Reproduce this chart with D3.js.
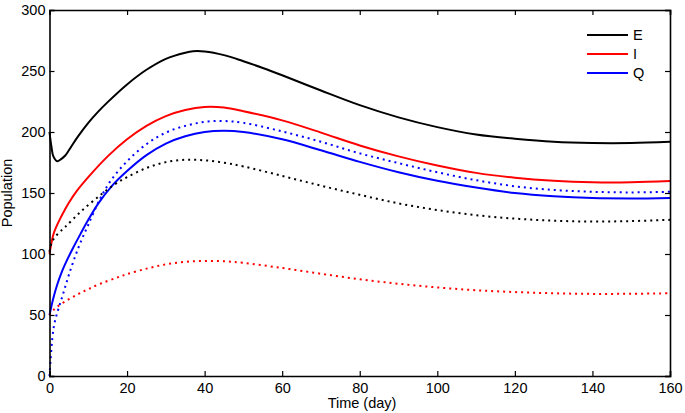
<!DOCTYPE html>
<html><head><meta charset="utf-8">
<script src="https://cdn.jsdelivr.net/npm/d3@7"></script>
<style>
body{margin:0;background:#fff;}
text{font-family:"Liberation Sans",Arial,sans-serif;}
</style></head>
<body><svg id="c" width="685" height="413"></svg>
<script>
// Data
const xTicks = [0,20,40,60,80,100,120,140,160];
const yTicks = [0,50,100,150,200,250,300];
const seriesNames = ["E","I","Q"];
const seriesColors = ["#000000","#ff0000","#0000ff"];

const eSolidT = [0,0.5,1,2,3,4,5,6,7.5,10,12.5,15,20,25,30,35,37,40,45,50,55,60,70,80,90,100,110,120,130,140,150,160];
const eSolidV = [200,188,180,176,177.8,180.5,185,190,197,207.5,216.5,224.5,239,251,260,265,266.2,266,263,258,252.5,246.5,234,222,212,204,198,194.5,192,191,191,192];

const iSolidT = [0,0.5,1,2,3,4,5,7,10,15,20,25,30,35,40,45,50,60,70,80,90,100,110,120,130,140,150,160];
const iSolidV = [100,109,116,124,130.5,136.5,142,151.5,163,180,194,205,213,218,220.5,220,217,209.5,199.5,189,180,172.5,166.5,162.5,160,158.8,158.8,159.8];

const qSolidT = [0,1,2,3,4,6,8,10,12.6,16,20,25,30,35,40,45,50,60,70,80,90,100,110,120,130,140,150,160];
const qSolidV = [50,64,75,84,91.5,104.5,116.5,128,141.5,155.5,168,181,190.5,196.5,200,201,200,194,185,175.5,167,160,154.5,150,147.3,145.8,145.5,145.8];

const eDotT = [0,0.5,1,2,4,8,13,17,20,25,30,35,40,45,50,60,70,80,90,100,110,120,130,140,150,160];
const eDotV = [102,109,112,116,122,134.5,148,157.5,163,170.5,175.3,177.2,176.8,174.8,171.8,164,156,148.5,141.5,136,131.8,129,127.3,126.6,127,128];

const iDotT = [0,1,2.3,5,7.6,10,13.4,17.7,20,25,30,35,40,45,50,60,70,80,90,100,110,120,130,140,150,160];
const iDotV = [50,54,57.5,63,67.5,71.2,76,81,83.5,88,91.5,93.6,94.3,94,92.8,88.5,83.8,79.3,75.6,72.6,70.3,68.8,67.8,67.3,67.4,67.8];

const qDotT = [0,0.3,0.7,1.2,2,3,4,5,6.5,8,10,13,16,20,25,30,35,40,45,50,60,70,80,90,100,110,120,130,140,150,160];
const qDotV = [0,14,30,42,52,62,72.5,83,97,109.5,124,145,161,176,190,199.5,205,208.3,209,207.5,200.5,192,182.5,174.5,167,160.5,155.5,152.5,151,150.5,151];

const W = 685, H = 413;
const m = {left:49.5, right:15, top:10, bottom:37};
const svg = d3.select("#c");
const x = d3.scaleLinear().domain([0,160]).range([m.left, W-m.right]);
const y = d3.scaleLinear().domain([0,300]).range([H-m.bottom, m.top]);

const line = d3.line().x(d=>x(d[0])).y(d=>y(d[1])).curve(d3.curveCatmullRom.alpha(0.5));
const zip = (t,v)=>t.map((ti,i)=>[ti,v[i]]);

const curves = [
  {t:eSolidT,v:eSolidV,c:0,dot:false},
  {t:iSolidT,v:iSolidV,c:1,dot:false},
  {t:qSolidT,v:qSolidV,c:2,dot:false},
  {t:eDotT,v:eDotV,c:0,dot:true},
  {t:iDotT,v:iDotV,c:1,dot:true},
  {t:qDotT,v:qDotV,c:2,dot:true}
];

const g = svg.append("g");
g.selectAll("path.curve").data(curves).enter().append("path")
  .attr("class","curve")
  .attr("d",d=>line(zip(d.t,d.v)))
  .attr("fill","none")
  .attr("stroke",d=>seriesColors[d.c])
  .attr("stroke-width",2)
  .attr("stroke-dasharray",d=>d.dot?"2,4":null);

// Axes (box with inward ticks)
const tl = 5;
const fs = 14.5;
const ax = svg.append("g");
ax.append("g").attr("transform",`translate(0,${y(0)})`)
  .call(d3.axisBottom(x).tickValues(xTicks).tickSize(-tl).tickPadding(7).tickFormat(d3.format("d")));
ax.append("g").attr("transform",`translate(0,${y(300)})`)
  .call(d3.axisTop(x).tickValues(xTicks).tickSize(-tl).tickFormat(""));
ax.append("g").attr("transform",`translate(${x(0)},0)`)
  .call(d3.axisLeft(y).tickValues(yTicks).tickSize(-tl).tickPadding(4).tickFormat(d3.format("d")));
ax.append("g").attr("transform",`translate(${x(160)},0)`)
  .call(d3.axisRight(y).tickValues(yTicks).tickSize(-tl).tickFormat(""));
ax.selectAll(".domain").attr("stroke","#000").attr("stroke-width",1.6);
ax.selectAll(".tick line").attr("stroke","#000").attr("stroke-width",1.2);
ax.selectAll(".tick text").attr("font-size",fs).attr("fill","#000").attr("font-family","Liberation Sans, Arial, sans-serif");

svg.append("text").attr("x",362).attr("y",408).attr("text-anchor","middle")
  .attr("font-size",fs).text("Time (day)");
svg.append("text").attr("transform",`translate(12,${(y(0)+y(300))/2}) rotate(-90)`)
  .attr("text-anchor","middle").attr("font-size",fs).text("Population");

// Legend
const lg = svg.append("g");
seriesNames.forEach((n,i)=>{
  const yy = 35 + i*19;
  lg.append("line").attr("x1",587).attr("x2",628).attr("y1",yy).attr("y2",yy)
    .attr("stroke",seriesColors[i]).attr("stroke-width",2);
  lg.append("text").attr("x",633).attr("y",yy+5).attr("font-size",fs).text(n);
});
</script></body></html>
